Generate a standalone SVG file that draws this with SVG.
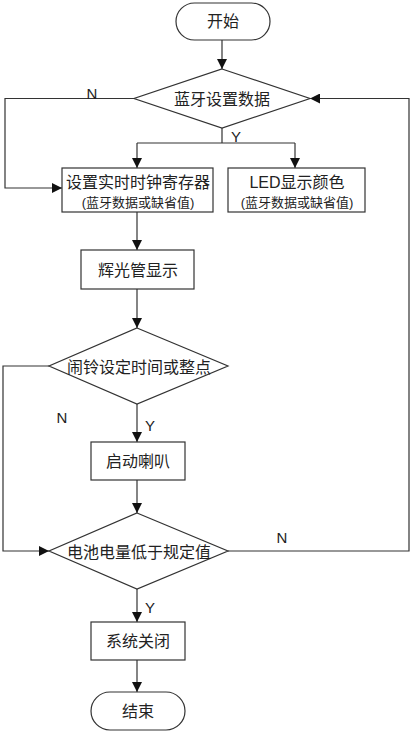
<svg xmlns="http://www.w3.org/2000/svg" width="412" height="739" viewBox="0 0 412 739">
<style>
.s{fill:#fff;stroke:#333;stroke-width:1.2}
.t{font-family:"Liberation Sans","Noto Sans CJK SC",sans-serif;font-size:16px;fill:#222;text-anchor:middle;dominant-baseline:central}
.st{font-family:"Liberation Sans","Noto Sans CJK SC",sans-serif;font-size:13px;fill:#222;text-anchor:middle;dominant-baseline:central}
.l{font-family:"Liberation Sans",sans-serif;font-size:15px;fill:#222;text-anchor:middle;dominant-baseline:central}
.c{fill:none;stroke:#333;stroke-width:1.2}
</style>
<defs>
<marker id="a" markerWidth="10" markerHeight="10" refX="10" refY="5" orient="auto" markerUnits="userSpaceOnUse" viewBox="0 0 10 10">
<path d="M0,0 L10,5 L0,10 Z" fill="#111"/>
</marker>
</defs>
<rect width="412" height="739" fill="#fff"/>
<g id="connectors">
<path class="c" d="M222,40 V69" marker-end="url(#a)"/>
<path class="c" d="M222,128 V143 M137,143 H295"/>
<path class="c" d="M137,143 V168" marker-end="url(#a)"/>
<path class="c" d="M295,143 V168" marker-end="url(#a)"/>
<path class="c" d="M134,98.5 H5 V188 H62" marker-end="url(#a)"/>
<path class="c" d="M137,212 V250" marker-end="url(#a)"/>
<path class="c" d="M137,289 V328" marker-end="url(#a)"/>
<path class="c" d="M137,404 V442" marker-end="url(#a)"/>
<path class="c" d="M49,366 H3 V551 H49" marker-end="url(#a)"/>
<path class="c" d="M137,480 V513" marker-end="url(#a)"/>
<path class="c" d="M228,551 H409 V98.5 H310" marker-end="url(#a)"/>
<path class="c" d="M137,589 V622" marker-end="url(#a)"/>
<path class="c" d="M137,660 V692" marker-end="url(#a)"/>
<text class="l" x="92" y="93">N</text>
<text class="l" x="236" y="136">Y</text>
<text class="l" x="62" y="417">N</text>
<text class="l" x="150" y="425">Y</text>
<text class="l" x="282" y="537">N</text>
<text class="l" x="150" y="607">Y</text>
</g>
<g id="start">
<rect class="s" x="176" y="3" width="94" height="37" rx="18.5"/>
<text class="t" x="223" y="21.5">开始</text>
</g>
<g id="d1">
<polygon class="s" points="222,69 310,98.5 222,128 134,98.5"/>
<text class="t" x="222" y="99">蓝牙设置数据</text>
</g>
<g id="b1">
<rect class="s" x="62" y="168" width="151" height="44"/>
<text class="t" x="138" y="182">设置实时时钟寄存器</text>
<text class="st" x="138" y="202">(蓝牙数据或缺省值)</text>
</g>
<g id="b2">
<rect class="s" x="228" y="168" width="137" height="44"/>
<text class="t" x="297" y="182">LED显示颜色</text>
<text class="st" x="297" y="202">(蓝牙数据或缺省值)</text>
</g>
<g id="b3">
<rect class="s" x="81" y="250" width="113" height="39"/>
<text class="t" x="138" y="270">辉光管显示</text>
</g>
<g id="d2">
<polygon class="s" points="137,328 228,366 137,404 49,366"/>
<text class="t" x="139" y="367">闹铃设定时间或整点</text>
</g>
<g id="b4">
<rect class="s" x="91" y="442" width="94" height="38"/>
<text class="t" x="138" y="461">启动喇叭</text>
</g>
<g id="d3">
<polygon class="s" points="137,513 228,551 137,589 49,551"/>
<text class="t" x="139" y="552">电池电量低于规定值</text>
</g>
<g id="b5">
<rect class="s" x="91" y="622" width="94" height="38"/>
<text class="t" x="138" y="641">系统关闭</text>
</g>
<g id="end">
<rect class="s" x="91" y="692" width="94" height="38" rx="19"/>
<text class="t" x="138" y="711">结束</text>
</g>
</svg>
